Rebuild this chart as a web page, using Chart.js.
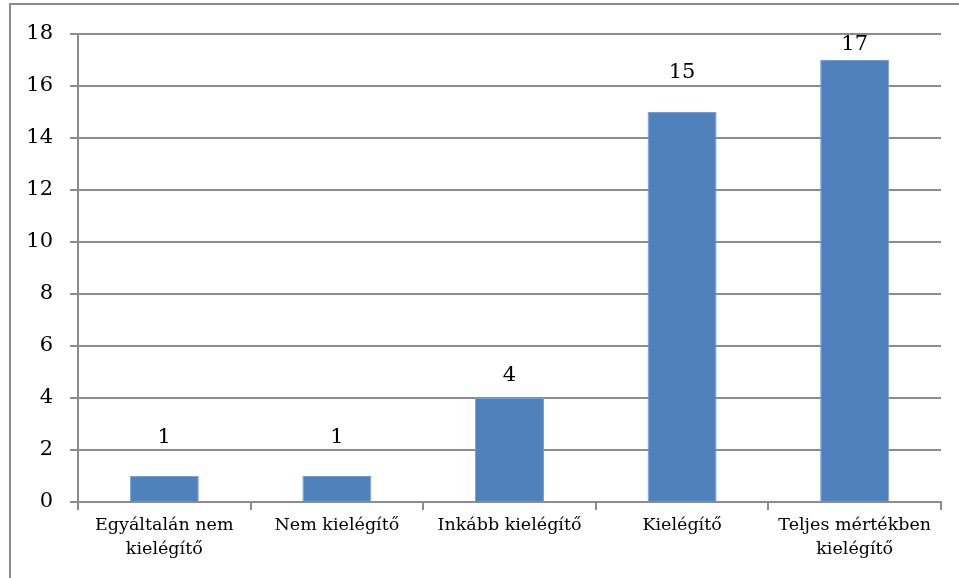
<!DOCTYPE html>
<html>
<head>
<meta charset="utf-8">
<script src="https://cdn.jsdelivr.net/npm/chart.js@4.4.0/dist/chart.umd.min.js"></script>
<style>
  html, body { margin: 0; padding: 0; background: #fff; }
  #wrap { position: relative; width: 959px; height: 578px; }
</style>
</head>
<body>
<div id="wrap"><canvas id="chart" width="959" height="578"></canvas></div>
<script>
// values
const categories = [
  ['Egyáltalán nem', 'kielégítő'],
  'Nem kielégítő',
  'Inkább kielégítő',
  'Kielégítő',
  ['Teljes mértékben', 'kielégítő']
];
const counts = [1, 1, 4, 15, 17];
const yTicks = [0, 2, 4, 6, 8, 10, 12, 14, 16, 18];

const GRID = '#8c8c8c';
const SERIF = '"DejaVu Serif", "Liberation Serif", serif';

// frame of the embedded chart object
const framePlugin = {
  id: 'frame',
  beforeDraw(chart) {
    const ctx = chart.ctx;
    ctx.save();
    ctx.strokeStyle = GRID;
    ctx.lineWidth = 2;
    ctx.beginPath();
    ctx.moveTo(10, 578);
    ctx.lineTo(10, 4);
    ctx.lineTo(959, 4);
    ctx.stroke();
    ctx.restore();
  }
};

// labels over bars, offsets follow the reference placement
const labelOffsets = [38, 38, 22, 39, 15];
const valueLabels = {
  id: 'valueLabels',
  afterDatasetsDraw(chart) {
    const ctx = chart.ctx;
    const meta = chart.getDatasetMeta(0);
    ctx.save();
    ctx.font = '21px ' + SERIF;
    ctx.fillStyle = '#000';
    ctx.textAlign = 'center';
    ctx.textBaseline = 'middle';
    meta.data.forEach((bar, i) => {
      ctx.fillText(String(counts[i]), bar.x, bar.y - labelOffsets[i]);
    });
    ctx.restore();
  }
};

new Chart(document.getElementById('chart'), {
  type: 'bar',
  data: {
    labels: categories,
    datasets: [{
      data: counts,
      backgroundColor: '#4f81bd',
      borderColor: '#7aa0d0',
      borderWidth: { top: 1, left: 1, right: 1, bottom: 0 },
      categoryPercentage: 1,
      barPercentage: 0.4
    }]
  },
  options: {
    responsive: false,
    animation: false,
    layout: { padding: { top: 34, right: 18, left: 0, bottom: 0 } },
    plugins: {
      legend: { display: false },
      tooltip: { enabled: false }
    },
    scales: {
      x: {
        grid: {
          offset: true,
          drawOnChartArea: false,
          color: GRID,
          lineWidth: 2,
          tickLength: 8
        },
        border: { color: GRID, width: 2 },
        ticks: {
          color: '#000',
          font: { family: SERIF, size: 17.5, lineHeight: 1.35 },
          padding: 4,
          maxRotation: 0,
          autoSkip: false
        },
        afterFit(scale) { scale.height = 76; }
      },
      y: {
        min: 0,
        max: 18,
        afterBuildTicks(scale) {
          scale.ticks = yTicks.map(v => ({ value: v }));
        },
        grid: {
          color: GRID,
          lineWidth: 2,
          tickLength: 8
        },
        border: { color: GRID, width: 2 },
        ticks: {
          color: '#000',
          font: { family: SERIF, size: 21 },
          padding: 17
        },
        afterFit(scale) { scale.width = 78; }
      }
    }
  },
  plugins: [framePlugin, valueLabels]
});
</script>
</body>
</html>
